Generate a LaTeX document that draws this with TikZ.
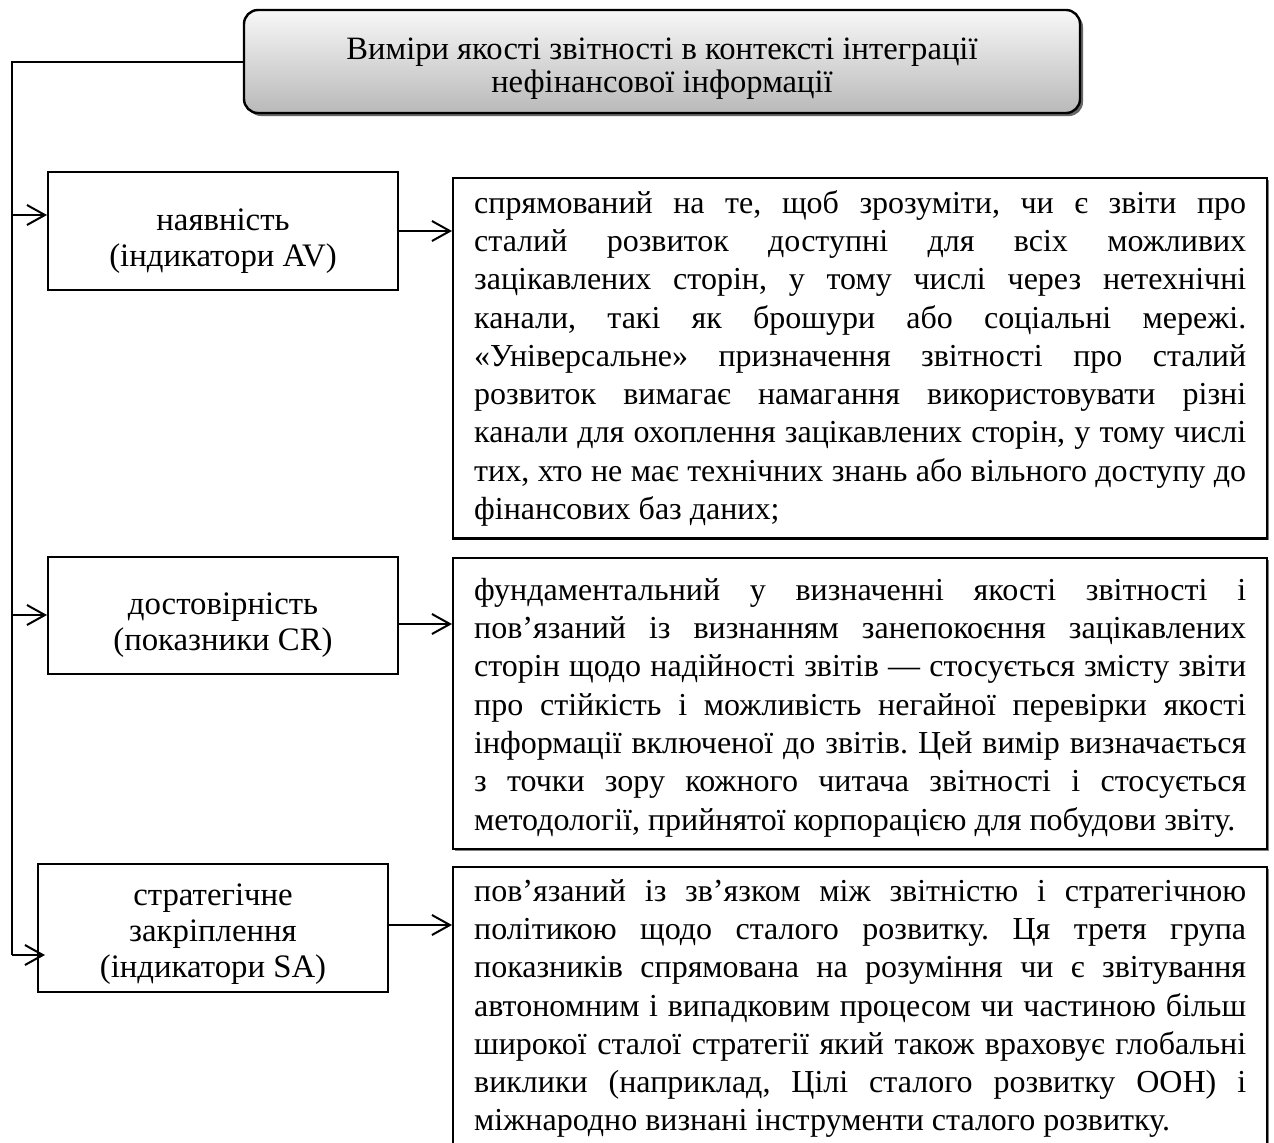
\documentclass[tikz,border=0pt]{standalone}
\usepackage{fontspec}
\setmainfont{Liberation Serif}
\usetikzlibrary{arrows.meta,shadows}
\hyphenpenalty=10000
\frenchspacing
\newcommand\lift[1]{\rule{0pt}{#1}}

\begin{document}
\begin{tikzpicture}[x=0.5pt,y=-0.5pt,line width=1pt,
  >={Straight Barb[length=9pt,width=10pt]},
  ttl/.style={draw,line width=1.2pt,rounded corners=7pt,top color=gray!6,bottom color=gray!55,
    drop shadow={shadow xshift=1.5pt,shadow yshift=-1.5pt,fill=black!60,opacity=1},
    minimum width=418pt,minimum height=51.5pt,align=center,font=\fontsize{16.3}{16.6}\selectfont},
  dim/.style={draw,fill=white,minimum width=175pt,align=center,font=\fontsize{16.4}{18}\selectfont},
  descr/.style={draw,line width=1.2pt,fill=white,anchor=north west,
    drop shadow={shadow xshift=0.8pt,shadow yshift=-0.8pt,fill=black!50,opacity=1},
    minimum width=407pt,text width=386pt,inner ysep=6pt,align=justify,
    font=\fontsize{16}{19.15}\selectfont}]
  \useasboundingbox (0,0) rectangle (1274,1142);
  \clip (0,0) rectangle (1274,1142);

  \node[ttl] (ttl) at (662,61.5) {\lift{18pt}Виміри якості звітності в контексті інтеграції\\нефінансової інформації};

  \node[dim,minimum height=59pt] (av) at (223,231) {\lift{21pt}наявність\\(індикатори AV)};
  \node[dim,minimum height=58.5pt] (cr) at (223,615) {\lift{21pt}достовірність\\(показники CR)};
  \node[dim,minimum height=64pt] (sa) at (213,928) {\lift{17pt}стратегічне\\закріплення\\(індикатори SA)};

  \node[descr] (avd) at (452,177) {спрямований на те, щоб зрозуміти, чи є звіти про\linebreak
    сталий розвиток доступні для всіх можливих\linebreak
    зацікавлених сторін, у тому числі через нетехнічні\linebreak
    канали, такі як брошури або соціальні мережі.\linebreak
    «Універсальне» призначення звітності про сталий\linebreak
    розвиток вимагає намагання використовувати різні\linebreak
    канали для охоплення зацікавлених сторін, у тому числі\linebreak
    тих, хто не має технічних знань або вільного доступу до\linebreak
    фінансових баз даних;};
  \node[descr] (crd) at (452,557) {\lift{15pt}фундаментальний у визначенні якості звітності і\linebreak
    пов’язаний із визнанням занепокоєння зацікавлених\linebreak
    сторін щодо надійності звітів — стосується змісту звіти\linebreak
    про стійкість і можливість негайної перевірки якості\linebreak
    інформації включеної до звітів. Цей вимір визначається\linebreak
    з точки зору кожного читача звітності і стосується\linebreak
    методології, прийнятої корпорацією для побудови звіту.};
  \node[descr] (sad) at (452,866) {пов’язаний із зв’язком між звітністю і стратегічною\linebreak
    політикою щодо сталого розвитку. Ця третя група\linebreak
    показників спрямована на розуміння чи є звітування\linebreak
    автономним і випадковим процесом чи частиною більш\linebreak
    широкої сталої стратегії який також враховує глобальні\linebreak
    виклики (наприклад, Цілі сталого розвитку ООН) і\linebreak
    міжнародно визнані інструменти сталого розвитку.};

  \coordinate (s1) at (12,215);
  \coordinate (s2) at (12,615);
  \coordinate (s3) at (12,955);
  \draw (ttl.west) -| (s3);
  \draw[->] (s1) -- (s1 -| av.west);
  \draw[->] (s2) -- (s2 -| cr.west);
  \draw[->] (s3) -- ([xshift=4pt]s3 -| sa.west);

  \draw[->] (av.east) -- (av.east -| avd.west);
  \draw[->] ([yshift=-4.5pt]cr.east) -- ([yshift=-4.5pt]cr.east -| crd.west);
  \draw[->] ([yshift=1.5pt]sa.east) -- ([yshift=1.5pt]sa.east -| sad.west);
\end{tikzpicture}
\end{document}
